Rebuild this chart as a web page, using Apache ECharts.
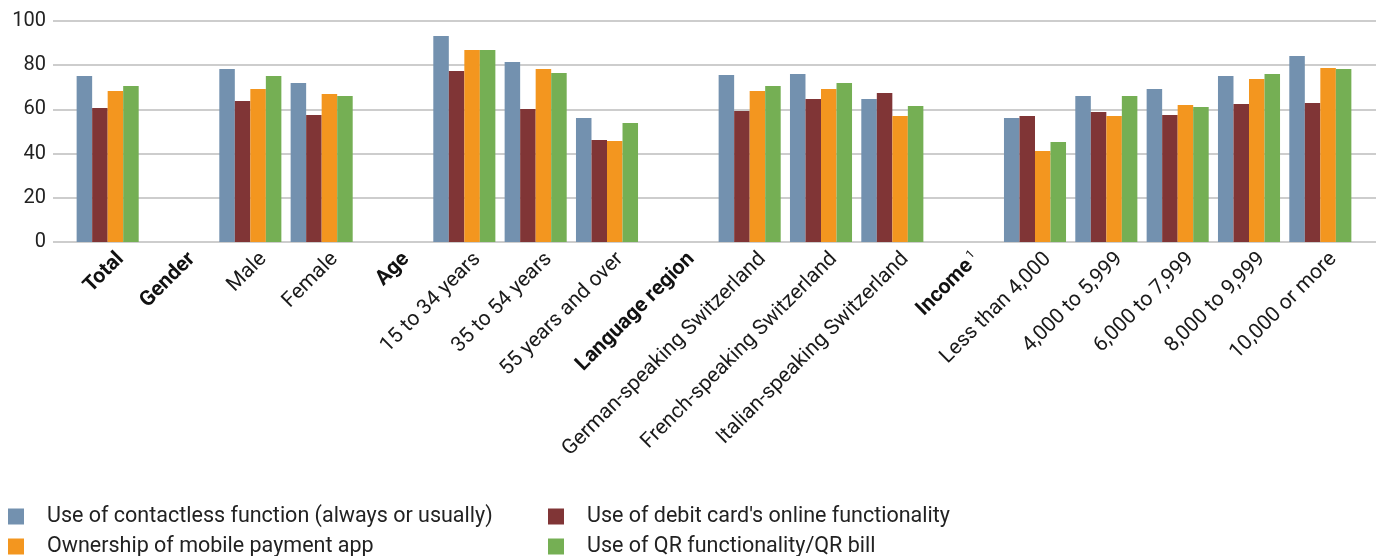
<!DOCTYPE html>
<html lang="en">
<head>
  <meta charset="UTF-8">
  <title>Payment functions by group</title>
  <style>
    html, body { margin: 0; padding: 0; background: #fff; }
    #main { width: 1376px; height: 556px; }
  </style>
</head>
<body>
  <div id="main"></div>
<script src="https://cdn.jsdelivr.net/npm/echarts@6/dist/echarts.min.js"></script>
<script>
  var chart = echarts.init(document.getElementById('main'));

  // categories (bold ones are group headers)
  var categories = ['Total', 'Gender', 'Male', 'Female', 'Age', '15 to 34 years', '35 to 54 years',
    '55 years and over', 'Language region', 'German-speaking Switzerland', 'French-speaking Switzerland',
    'Italian-speaking Switzerland', 'Income', 'Less than 4,000', '4,000 to 5,999', '6,000 to 7,999',
    '8,000 to 9,999', '10,000 or more'];
  var headers = ['Total', 'Gender', 'Age', 'Language region', 'Income'];

  var seriesNames = ['Use of contactless function (always or usually)', "Use of debit card's online functionality",
    'Ownership of mobile payment app', 'Use of QR functionality/QR bill'];

  var contactless = [75.1, null, 78.3, 71.9, null, 93.2, 81.4, 56.1, null, 75.6, 76.0, 64.7, null, 56.1, 66.1, 69.2, 75.1, 84.2];
  var debitOnline = [60.6, null, 63.8, 57.5, null, 77.4, 60.2, 46.2, null, 59.3, 64.7, 67.4, null, 57.0, 58.8, 57.5, 62.4, 62.9];
  var mobileApp   = [68.3, null, 69.2, 67.0, null, 86.9, 78.3, 45.7, null, 68.3, 69.2, 57.0, null, 41.2, 57.0, 62.0, 73.8, 78.7];
  var qrBill      = [70.6, null, 75.1, 66.1, null, 86.9, 76.5, 53.8, null, 70.6, 71.9, 61.5, null, 45.2, 66.1, 61.1, 76.0, 78.3];

  var colors = ['#7391af', '#803536', '#f3961f', '#75af54'];
  var font = 'Roboto, "Liberation Sans", sans-serif';

  function bar(name, values, color) {
    return {
      name: name,
      type: 'bar',
      xAxisIndex: 1,
      yAxisIndex: 1,
      data: values,
      barGap: '0%',
      barCategoryGap: '13%',
      itemStyle: { color: color },
      emphasis: { disabled: true }
    };
  }

  // one legend per entry so the two-column layout stays fixed
  function legend(left, top, name) {
    return {
      left: left, top: top, padding: 0,
      itemWidth: 16, itemHeight: 16,
      icon: 'rect',
      data: [name],
      textStyle: { fontSize: 21.5, lineHeight: 21, color: '#222', padding: [0, 0, 0, 18] }
    };
  }

  option = {
    animation: false,
    textStyle: { fontFamily: font },
    grid: [
      // background grid for the long horizontal lines
      { left: 53, right: 0, top: 21, bottom: 314 },
      // bars
      { left: 72, right: 20, top: 21, bottom: 314 },
      // category labels, set slightly right like the original
      { left: 85, right: 7, top: 21, bottom: 314 }
    ],
    legend: [
      legend(8, 505.5, seriesNames[0]),
      legend(8, 535.5, seriesNames[2]),
      legend(548, 505.5, seriesNames[1]),
      legend(548, 535.5, seriesNames[3])
    ],
    xAxis: [
      { gridIndex: 0, type: 'value', min: 0, max: 1, show: false },
      { gridIndex: 1, type: 'category', data: categories, show: false },
      {
        gridIndex: 2,
        type: 'category',
        data: categories,
        axisLine: { show: false },
        axisTick: { show: false },
        axisLabel: {
          interval: 0,
          rotate: 45,
          margin: 14,
          fontSize: 21,
          color: '#1a1a1a',
          formatter: function (v) {
            if (v === 'Income') return '{b|Income}{s| 1}';
            if (headers.indexOf(v) >= 0) return '{b|' + v + '}';
            return v;
          },
          rich: {
            b: { fontWeight: 'bold', fontSize: 21, color: '#111' },
            s: { fontSize: 12, color: '#111', verticalAlign: 'top', padding: [0, 0, 10, 0] }
          }
        }
      }
    ],
    yAxis: [
      {
        gridIndex: 0,
        type: 'value',
        min: 0, max: 100, interval: 20,
        axisLine: { show: false },
        axisTick: { show: false },
        axisLabel: { fontSize: 20, color: '#222', margin: 7 },
        splitLine: { lineStyle: { color: '#bdbdbd', width: 1.5 } }
      },
      {
        gridIndex: 1,
        type: 'value',
        min: 0, max: 100, interval: 20,
        show: false,
        splitLine: { show: false }
      },
      {
        gridIndex: 2,
        type: 'value',
        min: 0, max: 100,
        show: false,
        splitLine: { show: false }
      }
    ],
    series: [
      bar(seriesNames[0], contactless, colors[0]),
      bar(seriesNames[1], debitOnline, colors[1]),
      bar(seriesNames[2], mobileApp, colors[2]),
      bar(seriesNames[3], qrBill, colors[3])
    ]
  };

  chart.setOption(option);
</script>
</body>
</html>
